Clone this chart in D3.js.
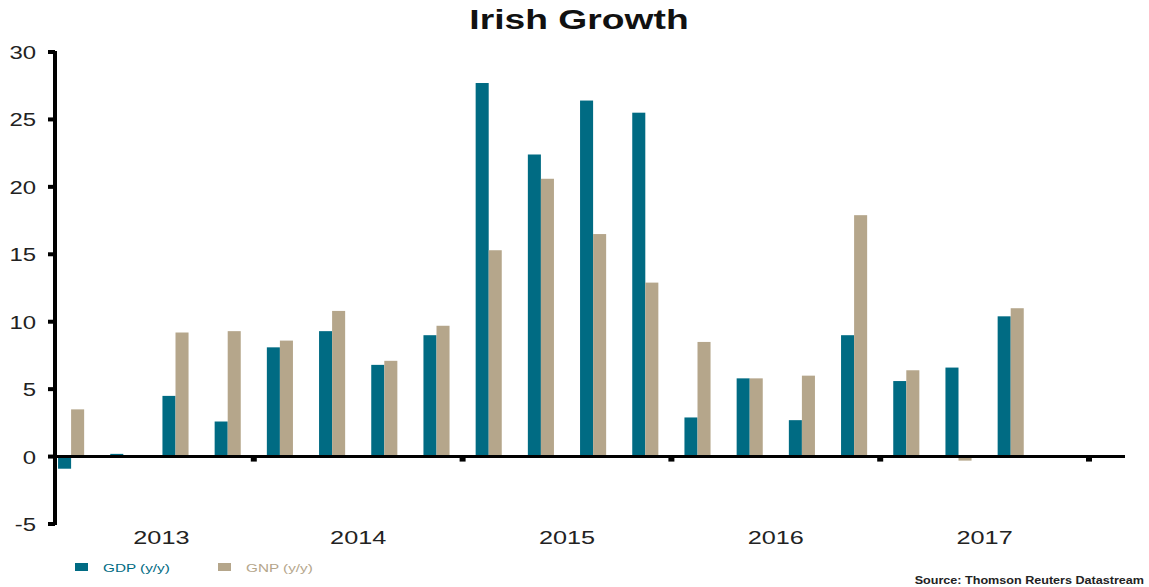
<!DOCTYPE html>
<html>
<head>
<meta charset="utf-8">
<script src="https://cdn.jsdelivr.net/npm/d3@7"></script>
<style>
  body { margin: 0; background: #fff; }
  svg { display: block; font-family: "Liberation Sans", Arial, sans-serif; }
</style>
</head>
<body>
<div id="chart"></div>
<script>
// quarterly data, 2013 Q1 .. 2017 Q4
const quarters = ["2013Q1","2013Q2","2013Q3","2013Q4","2014Q1","2014Q2","2014Q3","2014Q4",
                  "2015Q1","2015Q2","2015Q3","2015Q4","2016Q1","2016Q2","2016Q3","2016Q4",
                  "2017Q1","2017Q2","2017Q3","2017Q4"];
const gdp = [-0.9, 0.2, 4.5, 2.6, 8.1, 9.3, 6.8, 9.0, 27.7, 22.4, 26.4, 25.5, 2.9, 5.8, 2.7, 9.0, 5.6, 6.6, 10.4, null];
const gnp = [3.5, -0.1, 9.2, 9.3, 8.6, 10.8, 7.1, 9.7, 15.3, 20.6, 16.5, 12.9, 8.5, 5.8, 6.0, 17.9, 6.4, -0.3, 11.0, null];
const years = ["2013", "2014", "2015", "2016", "2017"];
const yTicks = [-5, 0, 5, 10, 15, 20, 25, 30];
const seriesNames = ["GDP (y/y)", "GNP (y/y)"];

const width = 1149, height = 587;
const colors = {gdp: "#006B83", gnp: "#B5A68B"};
const axisLeft = 55, axisRight = 1125;
const stretch = 1.33;   // the original picture is widened horizontally

const svg = d3.select("#chart").append("svg")
    .attr("width", width)
    .attr("height", height);

// text drawn at (x, y) and widened by sx
function wideText(g, x, y, sx) {
    return g.append("text")
        .attr("transform", `translate(${x},${y}) scale(${sx},1)`);
}

// scales
const x = d3.scaleLinear().domain([0, quarters.length]).range([45, 1089]);
const y = d3.scaleLinear().domain([-5, 30]).range([524, 52]);
const qw = x(1) - x(0);
const barW = qw * 0.25;

// title
wideText(svg, 579, 29, stretch)
    .attr("text-anchor", "middle")
    .attr("font-size", 28).attr("font-weight", "bold")
    .attr("fill", "#111")
    .text("Irish Growth");

// bars
const rows = quarters.map((q, i) => ({i: i, gdp: gdp[i], gnp: gnp[i]}));
const bars = svg.append("g");
[["gdp", 0], ["gnp", 1]].forEach(([key, k]) => {
    bars.selectAll("rect." + key)
        .data(rows.filter(d => d[key] != null))
        .enter().append("rect")
        .attr("class", key)
        .attr("x", d => x(d.i) + qw / 2 - barW + k * barW)
        .attr("width", barW)
        .attr("y", d => y(Math.max(0, d[key])))
        .attr("height", d => Math.abs(y(d[key]) - y(0)))
        .attr("fill", colors[key]);
});

// zero line with year ticks
svg.append("line")
    .attr("x1", axisLeft).attr("x2", axisRight)
    .attr("y1", y(0)).attr("y2", y(0))
    .attr("stroke", "#000").attr("stroke-width", 3);

svg.append("g").selectAll("rect")
    .data(d3.range(1, years.length + 1))
    .enter().append("rect")
    .attr("x", d => x(d * 4) - 3)
    .attr("y", y(0))
    .attr("width", 6).attr("height", 5)
    .attr("fill", "#000");

// year labels
const yearG = svg.append("g");
years.forEach((yr, i) => {
    const cx = (Math.max(x(i * 4), axisLeft + 14) + x(i * 4 + 4)) / 2;
    wideText(yearG, cx, 544, stretch)
        .attr("text-anchor", "middle")
        .attr("font-size", 19)
        .attr("fill", "#222")
        .text(yr);
});

// y axis
const yAxis = svg.append("g");
yAxis.append("line")
    .attr("x1", axisLeft).attr("x2", axisLeft)
    .attr("y1", y(30) - 1).attr("y2", y(-5) + 1)
    .attr("stroke", "#000").attr("stroke-width", 4);
yAxis.selectAll("rect.tick")
    .data(yTicks)
    .enter().append("rect")
    .attr("class", "tick")
    .attr("x", axisLeft - 7).attr("y", d => y(d) - 2)
    .attr("width", 7).attr("height", 4)
    .attr("fill", "#000");
yTicks.forEach(t => {
    wideText(yAxis, 36, y(t) + 7, stretch)
        .attr("text-anchor", "end")
        .attr("font-size", 18)
        .attr("fill", "#222")
        .text(t);
});

// legend
const legend = svg.append("g");
const legendX = [75, 218];
seriesNames.forEach((name, k) => {
    const c = k === 0 ? colors.gdp : colors.gnp;
    legend.append("rect")
        .attr("x", legendX[k]).attr("y", 563)
        .attr("width", 13).attr("height", 8)
        .attr("fill", c);
    wideText(legend, legendX[k] + 28, 572, stretch)
        .attr("font-size", 11.5)
        .attr("fill", c)
        .text(name);
});

// source
wideText(svg, 1144, 584, 1.2)
    .attr("text-anchor", "end")
    .attr("font-size", 10.5)
    .attr("font-weight", "bold")
    .attr("fill", "#222")
    .text("Source: Thomson Reuters Datastream");
</script>
</body>
</html>
